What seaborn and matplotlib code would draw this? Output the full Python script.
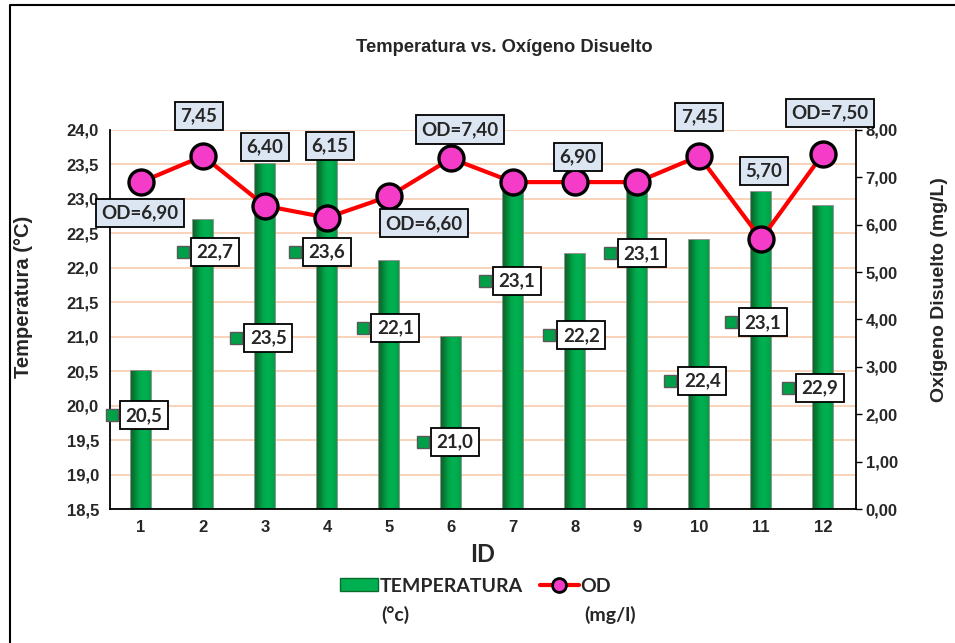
import matplotlib
matplotlib.use("Agg")
import matplotlib.pyplot as plt
import matplotlib.transforms as mtransforms
from matplotlib.lines import Line2D
from matplotlib.patches import Patch
import numpy as np
import seaborn as sns

# ---- data -----------------------------------------------------------------
ids = [1, 2, 3, 4, 5, 6, 7, 8, 9, 10, 11, 12]
temperatura = [20.5, 22.7, 23.5, 23.6, 22.1, 21.0, 23.1, 22.2, 23.1, 22.4, 23.1, 22.9]
od = [6.90, 7.45, 6.40, 6.15, 6.60, 7.40, 6.90, 6.90, 6.90, 7.45, 5.70, 7.50]
od_labels = ["OD=6,90", "7,45", "6,40", "6,15", "OD=6,60", "OD=7,40",
             None, "6,90", None, "7,45", "5,70", "OD=7,50"]
temp_ticks = [18.5, 19.0, 19.5, 20.0, 20.5, 21.0, 21.5, 22.0, 22.5, 23.0, 23.5, 24.0]
od_ticks = [0, 1, 2, 3, 4, 5, 6, 7, 8]

# ---- label layout (manual placement, as in the original sheet) -------------
temp_lab_dx = [0.05, 0.19, 0.05, 0.0, 0.1, 0.06, 0.06, 0.10, 0.08, 0.05, 0.03, -0.05]
temp_lab_y = [19.86, 22.23, 20.98, 22.23, 21.13, 19.47, 21.81, 21.02, 22.21, 20.36, 21.21, 20.26]
od_lab_off = [(-1, -31), (-4, 40), (0, 59), (3, 72), (35, -27), (9, 29),
              None, (3, 25), None, (0, 39), (3, 68), (7, 41)]

GREEN = "#00B050"
DARK_GREEN = "#0A6B2C"
GRID = "#F8CBAD"
PINK = "#F53CC8"
LABEL_BG = "#DCE6F2"
FONT = "Liberation Sans"
CAL = "Lato"
Y_MIN, Y_MAX = 18.5, 24.0


def comma(fmt):
    return lambda v, _: (fmt % v).replace(".", ",")


sns.set_theme(style="white")
plt.rcParams["font.family"] = [FONT, "DejaVu Sans"]

fig = plt.figure(figsize=(9.55, 6.43), dpi=100)
ax = fig.add_axes([110 / 955, 134 / 643, 746 / 955, 379 / 643])

# bars
sns.barplot(x=ids, y=temperatura, native_scale=True, width=0.32, color=GREEN,
            edgecolor="#7F7F7F", linewidth=1.2, ax=ax, zorder=2)
grad = np.array([[0.1, 0.55, 0.9, 1.0, 1.0, 0.8]])
cmap = matplotlib.colors.LinearSegmentedColormap.from_list("g", [DARK_GREEN, GREEN])
for p in ax.patches:
    x0, top = p.get_x(), p.get_y() + p.get_height()
    im = ax.imshow(grad, extent=(x0, x0 + p.get_width(), Y_MIN, top),
                   cmap=cmap, aspect="auto", zorder=2.1, interpolation="bicubic")
    im.set_clip_path(p)

ax.set_xlim(0.5, 12.53)
ax.set_ylim(Y_MIN, Y_MAX)
ax.set_yticks(temp_ticks)
ax.yaxis.set_major_formatter(matplotlib.ticker.FuncFormatter(comma("%.1f")))
ax.set_xticks(ids)
ax.set_xticklabels([str(i) for i in ids])
ax.grid(axis="y", color=GRID, linewidth=1.2, zorder=0)
ax.set_axisbelow(True)
for s in ["top", "right"]:
    ax.spines[s].set_visible(False)
for s in ["left", "bottom"]:
    ax.spines[s].set_color("black")
    ax.spines[s].set_linewidth(1.3)
ax.tick_params(axis="both", length=0, labelsize=12, pad=8)
for t in ax.get_xticklabels() + ax.get_yticklabels():
    t.set_fontweight("bold")
ax.set_ylabel("Temperatura (°C)", fontsize=14.5, fontweight="bold")
ax.yaxis.set_label_coords(-0.103, 0.56)
ax.set_xlabel("ID", fontsize=17, fontweight="bold", family=CAL, labelpad=6)

# temperature data labels with small legend keys
key_tr = mtransforms.offset_copy(ax.transData, fig=fig, x=-32, y=0, units="dots")
for i, x in enumerate(ids):
    lx, ly = x + temp_lab_dx[i], temp_lab_y[i]
    ax.text(lx, ly, f"{temperatura[i]:.1f}".replace(".", ","), family=CAL,
            fontsize=13.5, fontweight="bold", ha="center", va="center", zorder=5,
            bbox=dict(boxstyle="square,pad=0.3", fc="white", ec="black", lw=1.3))
    ax.plot([lx], [ly], marker="s", ms=8, mfc="#00A048", mec="#595959", mew=1,
            transform=key_tr, zorder=5, clip_on=False)

# OD line on secondary axis
ax2 = ax.twinx()
sns.lineplot(x=ids, y=od, ax=ax2, color="red", linewidth=3, marker="o",
             markersize=18, markerfacecolor=PINK, markeredgecolor="black",
             markeredgewidth=2.4, zorder=4)
ax2.set_ylim(0, 8)
ax2.set_yticks(od_ticks)
ax2.yaxis.set_major_formatter(matplotlib.ticker.FuncFormatter(comma("%.2f")))
for s in ["top", "left", "bottom"]:
    ax2.spines[s].set_visible(False)
ax2.spines["right"].set_color("black")
ax2.spines["right"].set_linewidth(1.3)
ax2.tick_params(axis="y", length=4, width=1, color="black", labelsize=12, pad=3, right=True)
for t in ax2.get_yticklabels():
    t.set_fontweight("bold")
ax2.grid(False)
ax2.set_ylabel("Oxígeno Disuelto (mg/L)", fontsize=14, fontweight="bold")
ax2.yaxis.set_label_coords(1.1, 0.58)

for i, x in enumerate(ids):
    if od_labels[i] is None:
        continue
    ax2.annotate(od_labels[i], (x, od[i]), xytext=od_lab_off[i], textcoords="offset pixels",
                 family=CAL, fontsize=13.5, fontweight="bold", ha="center", va="center",
                 annotation_clip=False, zorder=6,
                 bbox=dict(boxstyle="square,pad=0.3", fc=LABEL_BG, ec="black", lw=1.3))

fig.suptitle("Temperatura vs. Oxígeno Disuelto", x=0.528, y=1 - 47 / 643, va="center",
             fontsize=13.2, fontweight="bold")

# legend
handles = [Patch(facecolor=GREEN, edgecolor=DARK_GREEN, linewidth=1),
           Line2D([0], [0], color="red", lw=3, marker="o", ms=10, mfc=PINK,
                  mec="black", mew=2)]
leg = fig.legend(handles, ["TEMPERATURA", "OD"], ncol=2, frameon=False,
                 loc="center left", bbox_to_anchor=(322 / 955, 1 - 586 / 643),
                 prop=dict(family=CAL, weight="bold", size=14), handlelength=2.0,
                 handleheight=0.6, handletextpad=0.05, columnspacing=0.9)
fig.text(381 / 955, 1 - 615 / 643, "(°c)", family=CAL, fontweight="bold", fontsize=14,
         ha="left", va="center")
fig.text(584 / 955, 1 - 615 / 643, "(mg/l)", family=CAL, fontweight="bold", fontsize=14,
         ha="left", va="center")

# chart frame (top and left edges visible in the crop)
fig.add_artist(Line2D([10 / 955, 10 / 955, 1.0], [0.0, 1 - 5 / 643, 1 - 5 / 643],
                      transform=fig.transFigure, color="black", lw=1.5))

fig.savefig("out.png", dpi=100)
